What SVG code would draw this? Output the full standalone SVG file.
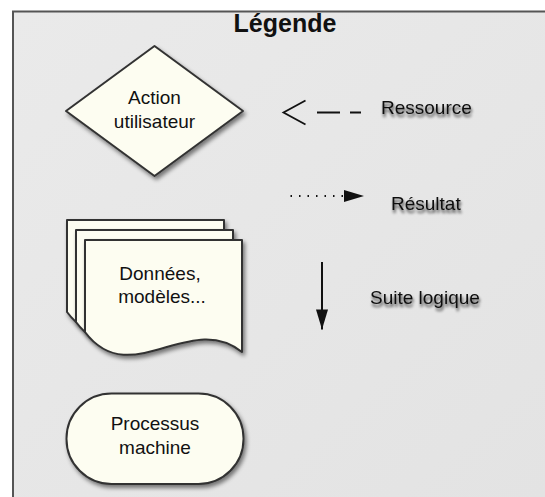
<svg xmlns="http://www.w3.org/2000/svg" width="545" height="497" viewBox="0 0 545 497">
  <defs>
    <style>
      text { font-family: "Liberation Sans", Arial, sans-serif; fill: #111; }
      .title { font-size: 25px; font-weight: bold; text-anchor: middle; }
      .nodetext { font-size: 19px; text-anchor: middle; }
      .label { font-size: 19px; filter: url(#tshadow); }
      .shape { fill: #fdfdf1; stroke: #333; stroke-width: 2; stroke-linejoin: round; filter: url(#dshadow); }
      .conn { fill: none; stroke: #111; stroke-width: 2; }
    </style>
    <linearGradient id="bg" x1="0" y1="0" x2="1" y2="1">
      <stop offset="0" stop-color="#eaeaea"/>
      <stop offset="1" stop-color="#e3e3e3"/>
    </linearGradient>
    <filter id="dshadow" x="-20%" y="-20%" width="140%" height="140%">
      <feGaussianBlur in="SourceAlpha" stdDeviation="2"/>
      <feOffset dx="2" dy="3" result="b"/>
      <feComponentTransfer><feFuncA type="linear" slope="0.5"/></feComponentTransfer>
      <feMerge><feMergeNode/><feMergeNode in="SourceGraphic"/></feMerge>
    </filter>
    <filter id="tshadow" x="-20%" y="-40%" width="140%" height="180%">
      <feGaussianBlur in="SourceAlpha" stdDeviation="1.8"/>
      <feOffset dx="1" dy="2.5" result="b"/>
      <feComponentTransfer><feFuncA type="linear" slope="0.75"/></feComponentTransfer>
      <feMerge><feMergeNode/><feMergeNode in="SourceGraphic"/></feMerge>
    </filter>
    <marker id="open" markerUnits="userSpaceOnUse" markerWidth="26" markerHeight="28" refX="22" refY="12" orient="auto" overflow="visible">
      <path d="M0,0 L22,12 L0,24" fill="none" stroke="#111" stroke-width="1.8"/>
    </marker>
    <marker id="tri" markerUnits="userSpaceOnUse" markerWidth="20" markerHeight="12" refX="20" refY="6" orient="auto" overflow="visible">
      <path d="M0,0 L20,6 L0,12 Z" fill="#111"/>
    </marker>
  </defs>

  <rect x="0" y="0" width="545" height="497" fill="#ffffff"/>
  <g id="frame">
    <rect x="13" y="11.5" width="532" height="486" fill="url(#bg)"/>
    <path d="M13,497 V11.5 H545" fill="none" stroke="#555" stroke-width="2"/>
    <text class="title" x="285" y="32">Légende</text>
  </g>

  <g id="node-action">
    <polygon class="shape" points="154.5,46 243,111 154.5,176 66,111"/>
    <text class="nodetext" x="154.5" y="103.5">Action</text>
    <text class="nodetext" x="154.5" y="127.5">utilisateur</text>
  </g>

  <g id="node-donnees">
    <path class="shape" d="M67,220 H224 V332 C172,290 112,372 67,312 Z"/>
    <path class="shape" d="M76,230 H233 V342 C181,300 121,382 76,322 Z"/>
    <path class="shape" d="M85,240 H242 V352 C190,310 130,392 85,332 Z"/>
    <text class="nodetext" x="160" y="280">Données,</text>
    <text class="nodetext" x="162" y="302.5">modèles...</text>
  </g>

  <g id="node-processus">
    <rect class="shape" x="66.5" y="393.5" width="177" height="90.5" rx="45" ry="45"/>
    <text class="nodetext" x="155" y="429.5">Processus</text>
    <text class="nodetext" x="155" y="453.5">machine</text>
  </g>

  <g id="connectors">
    <line class="conn" x1="361" y1="112.5" x2="283.5" y2="112.5" stroke-dasharray="11 10 23 100" marker-end="url(#open)"/>
    <line class="conn" x1="290.5" y1="196" x2="364" y2="196" stroke-width="1.5" stroke-dasharray="1.5 7" marker-end="url(#tri)"/>
    <line class="conn" x1="322" y1="262" x2="322" y2="329.5" stroke-width="2" marker-end="url(#tri)"/>
  </g>

  <g id="labels">
    <text class="label" x="381" y="113.5">Ressource</text>
    <text class="label" x="391" y="209.5">Résultat</text>
    <text class="label" x="370" y="303.5">Suite logique</text>
  </g>
</svg>
